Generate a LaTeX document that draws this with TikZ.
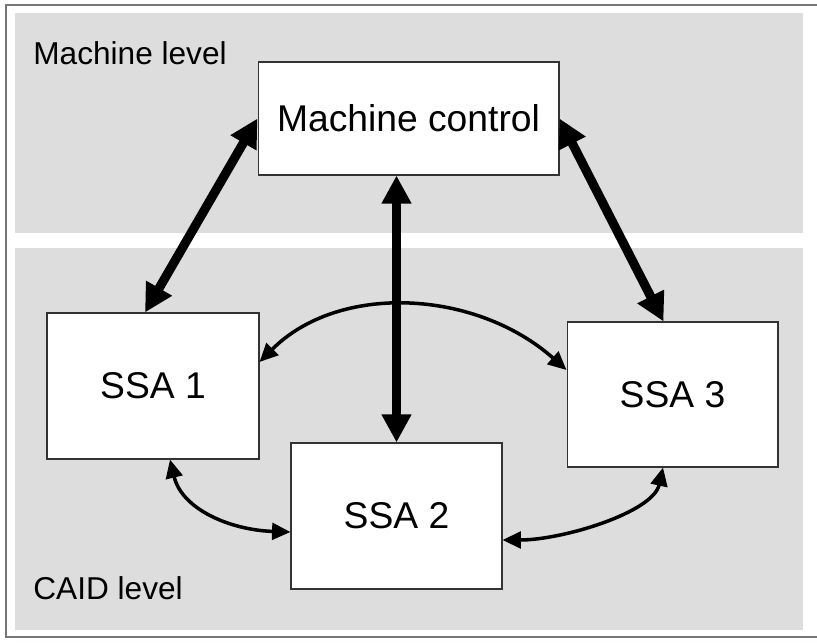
\documentclass[tikz,border=0pt]{standalone}
\usepackage{fontspec}
\setmainfont{Liberation Sans}
\usetikzlibrary{calc,arrows.meta}
\definecolor{panel}{HTML}{DDDDDD}
\definecolor{frameline}{HTML}{777777}
\definecolor{shade}{HTML}{858585}

\begin{document}
\begin{tikzpicture}[x=0.02cm,y=-0.02cm,
  box/.style={draw=black!80,line width=0.6pt,fill=white,inner sep=0pt,
    font=\fontsize{21.2}{24}\selectfont},
  level/.style={anchor=base west,inner sep=0pt,font=\fontsize{18}{20}\selectfont},
  bigarrow/.style={line width=5.2pt,
    {Triangle[length=16pt,width=16pt]}-{Triangle[length=16pt,width=16pt]}},
  smallarrow/.style={line width=2pt,
    {Triangle[length=10.5pt,width=9.5pt]}-{Triangle[length=10.5pt,width=9.5pt]}}]
  \useasboundingbox (0,0) rectangle (817,644);
  \clip (0,0) rectangle (817,644);

  \fill[shade] (14,12) rectangle (830,644);
  \draw[frameline,line width=1.2pt,fill=white] (6,5) rectangle (826,637);
  \fill[panel] (15,13) rectangle (803,233);
  \fill[panel] (15,248) rectangle (803,630);

  \node[level] (ml) at (33,65) {Machine level};
  \node[level] (cl) at (33,599) {CAID level};

  \node[box,minimum width=6.02cm,minimum height=2.26cm]
  	(mc) at (408.5,118.5) {Machine control};
  \node[box,minimum width=4.24cm,minimum height=2.92cm]
  	(ssa1) at (153,386) {SSA 1};
  \node[box,minimum width=4.22cm,minimum height=2.92cm]
  	(ssa2) at (396.5,516) {SSA 2};
  \node[box,minimum width=4.22cm,minimum height=2.9cm]
  	(ssa3) at (672.5,394.5) {SSA 3};

  \draw[bigarrow] ($(ssa1.north)+(-8,0)$) -- (mc.west);
  \draw[bigarrow] (mc.east) -- ($(ssa3.north)+(-9,0)$);
  \draw[bigarrow] (ssa2.north |- mc.south) -- (ssa2.north);

  \draw[smallarrow] ($(ssa1.east)+(0,-24)$)
  	.. controls +(80,-80) and +(-90,-80) .. ($(ssa3.west)+(0,-24.5)$);
  \draw[smallarrow] ($(ssa1.south)+(17,0)$)
  	.. controls +(12,50) and +(-60,-2) .. ($(ssa2.west)+(0,16)$);
  \draw[smallarrow] ($(ssa2.east)+(0,24)$)
  	.. controls +(60,0) and +(-10,45) .. ($(ssa3.south)+(-9.5,0)$);
\end{tikzpicture}
\end{document}
